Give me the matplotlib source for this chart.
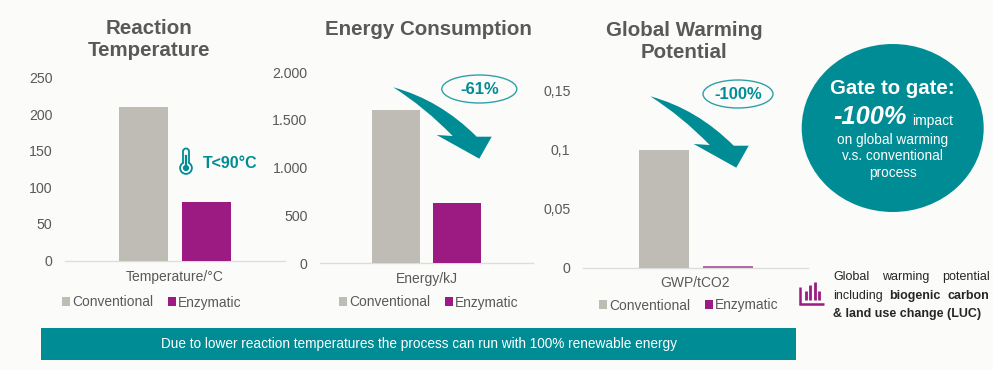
import matplotlib
matplotlib.use("Agg")
import matplotlib.pyplot as plt
from matplotlib.patches import Ellipse, PathPatch, Rectangle, Circle, FancyBboxPatch
from matplotlib.path import Path

series_names = ["Conventional", "Enzymatic"]
temp_values = [210, 80]
energy_values = [1600, 627]
gwp_values = [0.1, 0.0015]
temp_ticks = [0, 50, 100, 150, 200, 250]
temp_labels = ["0", "50", "100", "150", "200", "250"]
energy_ticks = [0, 500, 1000, 1500, 2000]
energy_labels = ["0", "500", "1.000", "1.500", "2.000"]
gwp_ticks = [0, 0.05, 0.1, 0.15]
gwp_labels = ["0", "0,05", "0,1", "0,15"]

W, H = 1002, 382
GREY, PURPLE, TEAL, TXT, BG = "#BFBBB5", "#9B1B82", "#008C95", "#595959", "#FBFBF9"
plt.rcParams["font.family"] = ["Liberation Sans", "DejaVu Sans"]

fig = plt.figure(figsize=(W / 100, H / 100), dpi=100, facecolor="white")

def full_axes(z):
    a = fig.add_axes([0, 0, 1, 1], zorder=z)
    a.set_xlim(0, W); a.set_ylim(H, 0); a.axis("off"); a.patch.set_alpha(0)
    return a

under = full_axes(0)
under.add_patch(Rectangle((0, 0), 993, 370, fc=BG, ec="none"))

def chart(left, right, base, top, ymax, vals, ticks, labels, xlabel, c1, c2, bw, leg_x, leg_y, xlab_y, enz_color=PURPLE):
    ax = fig.add_axes([left / W, 1 - base / H, (right - left) / W, (base - top) / H], zorder=1)
    ax.patch.set_alpha(0)
    span = right - left
    mid = (left + right) / 2
    xs = [(c1 - mid) / span, (c2 - mid) / span]
    ax.bar(xs[0], vals[0], width=bw / span, color=GREY, zorder=3)
    ax.bar(xs[1], vals[1], width=bw / span, color=enz_color, zorder=3)
    ax.set_xlim(-0.5, 0.5); ax.set_ylim(0, ymax)
    ax.set_yticks(ticks, labels, fontsize=10.2, color=TXT)
    ax.set_xticks([])
    ax.tick_params(axis="y", length=0, pad=9)
    for s in ("top", "left", "right"):
        ax.spines[s].set_visible(False)
    ax.spines["bottom"].set_color("#DDDDDD")
    ax.spines["bottom"].set_linewidth(1)
    ax.spines["bottom"].set_zorder(1)
    under.text(mid, xlab_y, xlabel, ha="center", va="center", fontsize=10, color=TXT)
    handles = [Rectangle((0, 0), 1, 1, fc=GREY, ec="none"), Rectangle((0, 0), 1, 1, fc=PURPLE, ec="none")]
    fig.legend(handles, series_names, loc="center left",
               bbox_to_anchor=(leg_x / W, 1 - leg_y / H), ncol=2, frameon=False,
               fontsize=9.9, labelcolor=TXT, handlelength=0.58, handleheight=0.58,
               handletextpad=0.2, columnspacing=1.0, borderpad=0, borderaxespad=0)
    return ax

chart(65, 285, 260.5, 77.5, 250, temp_values, temp_ticks, temp_labels, "Temperature/°C",
      143.5, 206.5, 49.5, 62, 302.5, 277)
chart(320, 533, 263.3, 72, 2000, energy_values, energy_ticks, energy_labels, "Energy/kJ",
      396, 457, 48, 339, 302.5, 279.5)
chart(583, 808, 267.7, 91, 0.15, gwp_values, gwp_ticks, gwp_labels, "GWP/tCO2",
      663.5, 727.5, 50, 599, 305.5, 283, enz_color="#B868A8")

over = full_axes(5)
for x, y, s in [(149.3, 39, "Reaction\nTemperature"), (428, 29.5, "Energy Consumption"), (684.4, 41, "Global Warming\nPotential")]:
    over.text(x, y, s, ha="center", va="center", fontsize=14.8, fontweight="bold", color=TXT, linespacing=1.2)

def arrow(dx, dy):
    verts = [(393.3, 87.3), (440, 100), (476.7, 136.7), (491.7, 136.7), (479.3, 158.7),
             (436.7, 135), (452.7, 136), (425, 107.5), (393.3, 87.3), (393.3, 87.3)]
    codes = [Path.MOVETO, Path.CURVE3, Path.CURVE3, Path.LINETO, Path.LINETO,
             Path.LINETO, Path.LINETO, Path.CURVE3, Path.CURVE3, Path.CLOSEPOLY]
    over.add_patch(PathPatch(Path([(a + dx, b + dy) for a, b in verts], codes), fc=TEAL, ec="none"))

arrow(0, 0)
arrow(257, 9)

for x, y, w, s in [(479.3, 89, 75, "-61%"), (738, 94, 70, "-100%")]:
    over.add_patch(Ellipse((x, y), w, 28, fc=BG, ec="#2FA0A8", lw=1))
    over.text(x, y + 0.5, s, ha="center", va="center", fontsize=12, fontweight="bold", color=TEAL)

over.text(202.5, 164, "T<90°C", ha="left", va="center", fontsize=11.5, fontweight="bold", color=TEAL)

# thermometer icon
over.add_patch(FancyBboxPatch((183, 148.5), 6, 20, boxstyle="round,pad=0,rounding_size=3", fc=BG, ec=TEAL, lw=1.3))
over.add_patch(Circle((186, 168), 5.9, fc=BG, ec=TEAL, lw=1.3))
over.add_patch(Rectangle((183.8, 160), 4.4, 5, fc=BG, ec="none"))
over.add_patch(Circle((186, 168), 3.1, fc=TEAL, ec="none"))
over.plot([186, 186], [156, 167], color=TEAL, lw=1.6)

# gate circle
over.add_patch(Ellipse((892.7, 128), 182, 168, fc=TEAL, ec="none"))
over.text(892.7, 89, "Gate to gate:", ha="center", va="center", fontsize=14.7, fontweight="bold", color="white")
over.text(833, 117, "-100%", ha="left", va="center", fontsize=18.3, fontweight="bold", style="italic", color="white")
over.text(912, 121, "impact", ha="left", va="center", fontsize=10, color="white")
for y, s in [(140, "on global warming"), (156, "v.s. conventional"), (173, "process")]:
    over.text(892.7, y, s, ha="center", va="center", fontsize=9.8, color="white")

# banner
over.add_patch(Rectangle((41, 328), 755, 32, fc=TEAL, ec="none"))
over.text(419, 344, "Due to lower reaction temperatures the process can run with 100% renewable energy",
          ha="center", va="center", fontsize=9.8, color="white")

# side note
for x, y, s, w in [(833, 277, "Global", "normal"), (881.7, 277, "warming", "normal"), (941.7, 277, "potential", "normal"),
                   (833, 296, "including", "normal"), (889.3, 296, "biogenic", "bold"), (947.7, 296, "carbon", "bold"),
                   (833, 314, "& land use change (LUC)", "bold")]:
    over.text(x, y, s, ha="left", va="center", fontsize=9, fontweight=w, color="#262626")

# bar icon
over.plot([800.5, 800.5, 824], [287, 303.5, 303.5], color=PURPLE, lw=1.8, solid_capstyle="butt", solid_joinstyle="miter")
for x, t in [(805.8, 290.7), (810.4, 285), (815, 281.7), (819.4, 290.7)]:
    over.plot([x, x], [299.5, t], color=PURPLE, lw=2, solid_capstyle="butt")

fig.savefig("out.png", dpi=100, facecolor="white")
